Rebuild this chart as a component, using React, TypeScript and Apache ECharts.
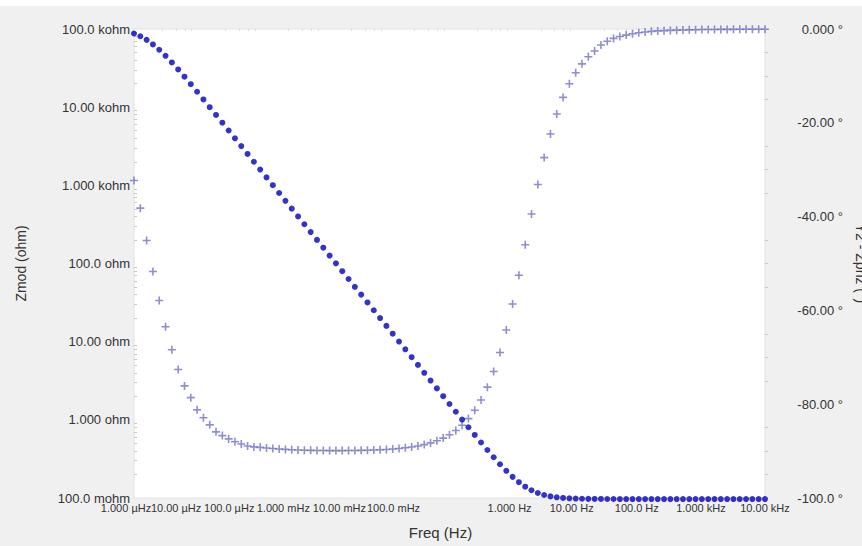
import React, { useEffect, useRef } from "react";
import * as echarts from "echarts";

// Frequencies (Hz), 10 points per decade
const freqHz = [
  1e-6, 1.259e-6, 1.585e-6, 1.995e-6, 2.512e-6, 3.162e-6, 3.981e-6, 5.012e-6, 6.31e-6, 7.943e-6,
  1e-5, 1.259e-5, 1.585e-5, 1.995e-5, 2.512e-5, 3.162e-5, 3.981e-5, 5.012e-5, 6.31e-5, 7.943e-5,
  1e-4, 1.259e-4, 1.585e-4, 1.995e-4, 2.512e-4, 3.162e-4, 3.981e-4, 5.012e-4, 6.31e-4, 7.943e-4,
  1e-3, 1.259e-3, 1.585e-3, 1.995e-3, 2.512e-3, 3.162e-3, 3.981e-3, 5.012e-3, 6.31e-3, 7.943e-3,
  1e-2, 1.259e-2, 1.585e-2, 1.995e-2, 2.512e-2, 3.162e-2, 3.981e-2, 5.012e-2, 6.31e-2, 7.943e-2,
  0.1, 0.1259, 0.1585, 0.1995, 0.2512, 0.3162, 0.3981, 0.5012, 0.631, 0.7943,
  1, 1.259, 1.585, 1.995, 2.512, 3.162, 3.981, 5.012, 6.31, 7.943,
  10, 12.59, 15.85, 19.95, 25.12, 31.62, 39.81, 50.12, 63.1, 79.43,
  100, 125.9, 158.5, 199.5, 251.2, 316.2, 398.1, 501.2, 631, 794.3,
  1000, 1259, 1585, 1995, 2512, 3162, 3981, 5012, 6310, 7943,
  10000,
];

// |Z| (ohm)
const zmodOhm = [
  87600, 80800, 72600, 63500, 54250, 45390, 37370, 30390, 24530, 19680,
  15740, 12550, 9996, 7954, 6325, 5027, 3995, 3174, 2522, 2003,
  1592, 1264, 1004, 797.7, 633.6, 503.3, 399.8, 317.6, 252.3, 200.4,
  159.2, 126.4, 100.4, 79.77, 63.36, 50.33, 39.98, 31.76, 25.23, 20.04,
  15.92, 12.64, 10.04, 7.977, 6.336, 5.034, 3.999, 3.177, 2.525, 2.006,
  1.595, 1.268, 1.009, 0.8036, 0.641, 0.5126, 0.4114, 0.3321, 0.2703, 0.2226,
  0.1864, 0.1593, 0.1396, 0.1256, 0.1159, 0.1093, 0.1049, 0.1021, 0.1002, 0.0991,
  0.0983, 0.0978, 0.0975, 0.0973, 0.0972, 0.0971, 0.0971, 0.097, 0.097, 0.097,
  0.097, 0.097, 0.097, 0.097, 0.097, 0.097, 0.097, 0.097, 0.097, 0.097,
  0.097, 0.097, 0.097, 0.097, 0.097, 0.097, 0.097, 0.097, 0.097, 0.097,
  0.097,
];

// Phase (degrees)
const zphzDeg = [
  -32.3, -38.2, -45.1, -51.7, -57.9, -63.5, -68.4, -72.6, -76.1, -78.6,
  -81.2, -82.9, -84.4, -85.9, -86.7, -87.4, -88.0, -88.5, -88.9, -89.1,
  -89.2, -89.35, -89.45, -89.55, -89.64, -89.71, -89.77, -89.81, -89.84, -89.86,
  -89.88, -89.89, -89.89, -89.89, -89.88, -89.86, -89.84, -89.81, -89.77, -89.71,
  -89.65, -89.56, -89.45, -89.3, -89.12, -88.9, -88.61, -88.25, -87.8, -87.23,
  -86.51, -85.61, -84.48, -83.07, -81.3, -79.09, -76.36, -73.02, -68.97, -64.17,
  -58.64, -52.5, -45.99, -39.43, -33.15, -27.42, -22.4, -18.13, -14.58, -11.67,
  -9.32, -7.43, -5.91, -4.7, -3.4, -2.6, -2.0, -1.6, -1.3, -1.0,
  -0.8, -0.65, -0.5, -0.4, -0.35, -0.3, -0.25, -0.2, -0.18, -0.15,
  -0.12, -0.11, -0.1, -0.09, -0.08, -0.07, -0.06, -0.06, -0.05, -0.05,
  -0.05,
];

const xTickLabels = [
  "1.000 µHz", "10.00 µHz", "100.0 µHz", "1.000 mHz", "10.00 mHz", "100.0 mHz",
  "1.000 Hz", "10.00 Hz", "100.0 Hz", "1.000 kHz", "10.00 kHz",
];
const zTickLabels = [
  "100.0 mohm", "1.000 ohm", "10.00 ohm", "100.0 ohm", "1.000 kohm", "10.00 kohm", "100.0 kohm",
];
const phaseTickLabels = ["-100.0 °", "-80.00 °", "-60.00 °", "-40.00 °", "-20.00 °", "0.000 °"];

// style: leftward shift (px) of each x tick label, as in the reference
const xLabelShift = [8, 21, 31, 40, 47, 56, 3, 4, 2, 1, 0];

const FONT = "Liberation Sans, Arial, sans-serif";
const TEXT = "#333333";

export default function App() {
  const ref = useRef<HTMLDivElement>(null);

  useEffect(() => {
    if (!ref.current) return;
    const chart = echarts.init(ref.current, undefined, { renderer: "svg" });

    const rich: Record<string, any> = {};
    xLabelShift.forEach((s, i) => {
      rich["s" + i] = {
        padding: [0, 2 * s, 0, 0],
        fontSize: 11,
        fontFamily: FONT,
        color: TEXT,
      };
    });

    // the decade labels are split over two coincident axes (even / odd decades),
    // so that the crowded, shifted labels are all kept
    const makeXAxis = (parity: number, withName: boolean) => ({
      type: "log",
      logBase: 10,
      min: 1e-6,
      max: 1e4,
      interval: 1,
      position: "bottom",
      name: withName ? "Freq (Hz)" : "",
      nameLocation: "middle",
      nameGap: 27,
      nameTextStyle: { fontSize: 15, color: TEXT, fontFamily: FONT, padding: [0, 18, 0, 0] },
      axisLine: { show: false },
      axisTick: { show: false },
      minorTick: withName
        ? { show: true, splitNumber: 5, length: 2, lineStyle: { color: "#dddddd" } }
        : { show: false },
      splitLine: { show: false },
      axisLabel: {
        margin: 4,
        fontSize: 11,
        color: TEXT,
        fontFamily: FONT,
        hideOverlap: false,
        formatter: (v: number) => {
          const i = Math.round(Math.log10(v)) + 6;
          if (i % 2 !== parity) return "";
          return "{s" + i + "|" + xTickLabels[i] + "}";
        },
        rich,
      },
    });

    const zData = freqHz.map((f, i) => [f, zmodOhm[i]]);
    const pData = freqHz.map((f, i) => [f, zphzDeg[i]]);

    chart.setOption({
      animation: false,
      backgroundColor: "#f0f0f0",
      textStyle: { fontFamily: FONT },
      grid: {
        left: 134,
        right: 97,
        top: 23,
        bottom: 48,
        outerBoundsMode: "none",
        containLabel: false,
        show: true,
        backgroundColor: "#ffffff",
        borderColor: "#e2e2e2",
        borderWidth: 1,
      },
      xAxis: [makeXAxis(0, true), makeXAxis(1, false)],
      yAxis: [
        {
          type: "log",
          logBase: 10,
          min: 0.1,
          max: 100000,
          interval: 1,
          position: "left",
          name: "Zmod (ohm)",
          nameLocation: "middle",
          nameRotate: 90,
          nameGap: 106,
          nameTextStyle: { fontSize: 14, color: TEXT, fontFamily: FONT },
          axisLine: { show: false },
          axisTick: { show: false, inside: true },
          minorTick: { show: true, splitNumber: 9, length: 3, lineStyle: { color: "#c8c8c8" } },
          splitLine: { show: false },
          axisLabel: {
            margin: 4,
            fontSize: 13,
            color: TEXT,
            fontFamily: FONT,
            showMinLabel: true,
            showMaxLabel: true,
            formatter: (v: number) => zTickLabels[Math.round(Math.log10(v)) + 1],
          },
        },
        {
          type: "value",
          min: -100,
          max: 0,
          interval: 20,
          position: "right",
          name: "Y2 - Zphz (°)",
          nameLocation: "middle",
          nameRotate: -90,
          nameGap: 76,
          nameTextStyle: { fontSize: 14, color: TEXT, fontFamily: FONT },
          axisLine: { show: false },
          axisTick: { show: false },
          minorTick: { show: true, splitNumber: 4, length: 3, lineStyle: { color: "#c8c8c8" } },
          splitLine: { show: false },
          axisLabel: {
            margin: 78,
            align: "right",
            fontSize: 13,
            color: TEXT,
            fontFamily: FONT,
            formatter: (v: number) => phaseTickLabels[Math.round((v + 100) / 20)],
          },
        },
      ],
      series: [
        {
          name: "Zphz",
          type: "scatter",
          xAxisIndex: 0,
          yAxisIndex: 1,
          data: pData,
          clip: false,
          symbol: "path://M4,0H6V4H10V6H6V10H4V6H0V4H4Z",
          symbolSize: 8,
          itemStyle: { color: "#6a6abf", opacity: 0.75 },
        },
        {
          name: "Zmod",
          type: "scatter",
          xAxisIndex: 0,
          yAxisIndex: 0,
          data: zData,
          clip: false,
          symbol: "circle",
          symbolSize: 6,
          itemStyle: { color: "#0000bc" },
        },
      ],
    });

    return () => chart.dispose();
  }, []);

  return (
    <div
      style={{
        position: "fixed",
        left: 0,
        top: 0,
        width: 862,
        height: 546,
        background: "#ffffff",
        overflow: "hidden",
      }}
    >
      <div ref={ref} style={{ position: "absolute", left: 0, top: 6, width: 862, height: 540 }} />
    </div>
  );
}
